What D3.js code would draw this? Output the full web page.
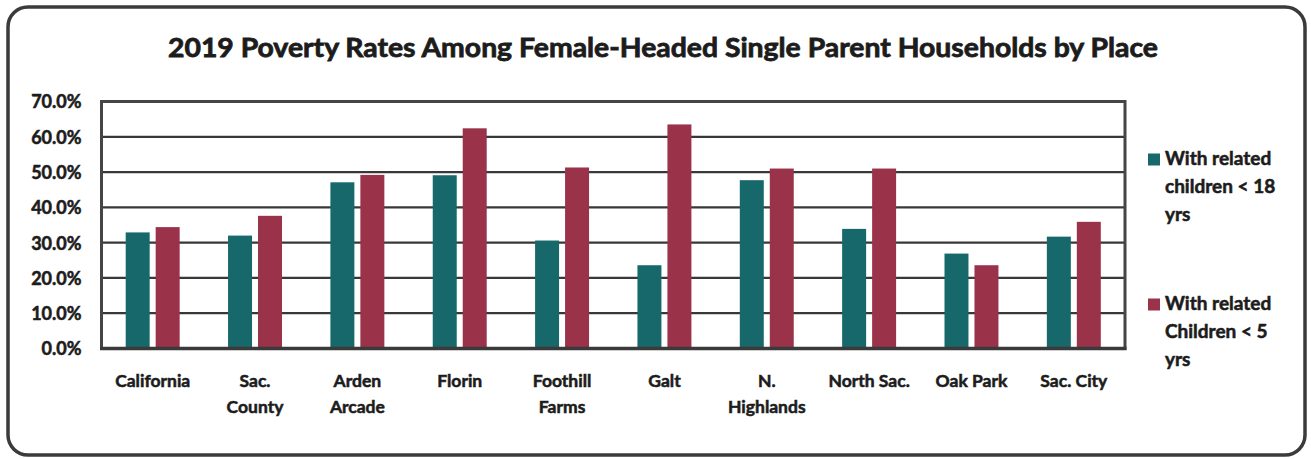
<!DOCTYPE html>
<html>
<head>
<meta charset="utf-8">
<script src="https://cdn.jsdelivr.net/npm/d3@7"></script>
<style>
  html, body { margin: 0; padding: 0; background: #fff; }
  svg { display: block; }
  text { font-family: Lato, "Open Sans", sans-serif; font-weight: 700; fill: #1c1c1c;
         stroke: #1c1c1c; stroke-width: 0.55px; paint-order: stroke; }
</style>
</head>
<body>
<svg id="chart" width="1311" height="459"></svg>
<script>
// Poverty rates by place (share of households)
const places = ["California", "Sac. County", "Arden Arcade", "Florin", "Foothill Farms",
                "Galt", "N. Highlands", "North Sac.", "Oak Park", "Sac. City"];
// Axis label lines for each place
const placeLabels = [["California"], ["Sac.", "County"], ["Arden", "Arcade"], ["Florin"],
                     ["Foothill", "Farms"], ["Galt"], ["N.", "Highlands"], ["North Sac."],
                     ["Oak Park"], ["Sac. City"]];
const under18 = [0.329, 0.320, 0.471, 0.491, 0.306, 0.236, 0.477, 0.339, 0.269, 0.317];
const under5  = [0.344, 0.376, 0.492, 0.624, 0.513, 0.635, 0.510, 0.510, 0.236, 0.359];
const seriesNames = ["With related children < 18 yrs", "With related Children < 5 yrs"];
const legendLines = [["With related", "children < 18", "yrs"], ["With related", "Children < 5", "yrs"]];
const yTicks = [0, 0.1, 0.2, 0.3, 0.4, 0.5, 0.6, 0.7];
const titleText = "2019 Poverty Rates Among Female-Headed Single Parent Households by Place";

const colors = ["#17686b", "#9a324a"];
const svg = d3.select("#chart");

// Outer rounded frame
svg.append("rect")
  .attr("x", 8).attr("y", 7).attr("width", 1297).attr("height", 448)
  .attr("rx", 20).attr("ry", 20)
  .attr("fill", "#fff").attr("stroke", "#3b3b3b").attr("stroke-width", 3.5);

// Title
svg.append("text")
  .attr("x", 663).attr("y", 57)
  .attr("text-anchor", "middle")
  .attr("font-size", 27)
  .style("stroke-width", "0.8px")
  .attr("textLength", 990).attr("lengthAdjust", "spacingAndGlyphs")
  .text(titleText);

const plot = { left: 101.5, right: 1125, top: 101.5, bottom: 348.5 };

const x0 = d3.scaleBand().domain(places).range([plot.left, plot.right]).padding(0);
const x1 = d3.scaleBand().domain(seriesNames).range([0, x0.bandwidth()])
  .paddingInner(0.2).paddingOuter(0.807);
const y = d3.scaleLinear().domain([0, 0.7]).range([plot.bottom, plot.top]);

// Gridlines
svg.append("g")
  .selectAll("line")
  .data(yTicks.slice(1, -1))
  .join("line")
  .attr("x1", plot.left).attr("x2", plot.right)
  .attr("y1", d => y(d)).attr("y2", d => y(d))
  .attr("stroke", "#383838").attr("stroke-width", 2.2);

// Plot frame
svg.append("rect")
  .attr("x", plot.left).attr("y", plot.top)
  .attr("width", plot.right - plot.left).attr("height", plot.bottom - plot.top)
  .attr("fill", "none").attr("stroke", "#454545").attr("stroke-width", 3);

// Bars
const rows = places.map((p, i) => ({ place: p, values: [under18[i], under5[i]] }));
const groups = svg.append("g").selectAll("g")
  .data(rows).join("g")
  .attr("transform", d => `translate(${x0(d.place)},0)`);
groups.selectAll("rect")
  .data(d => d.values.map((v, k) => ({ key: seriesNames[k], value: v, k })))
  .join("rect")
  .attr("x", d => x1(d.key))
  .attr("width", x1.bandwidth())
  .attr("y", d => y(d.value))
  .attr("height", d => plot.bottom - y(d.value))
  .attr("fill", d => colors[d.k]);

// Bottom axis line
svg.append("line")
  .attr("x1", plot.left - 1.5).attr("x2", plot.right + 1.5)
  .attr("y1", plot.bottom).attr("y2", plot.bottom)
  .attr("stroke", "#3a3a3a").attr("stroke-width", 3.5);

// Y axis labels
const yAxis = d3.axisLeft(y).tickValues(yTicks).tickFormat(d3.format(".1%")).tickSize(0).tickPadding(0);
const yg = svg.append("g").attr("transform", `translate(${plot.left - 20},0)`).call(yAxis);
yg.select(".domain").remove();
yg.selectAll("text")
  .attr("font-family", "Lato, 'Open Sans', sans-serif")
  .attr("font-weight", 700)
  .attr("font-size", 18)
  .attr("fill", "#1c1c1c")
  .attr("dy", "0.36em");

// X axis labels
const xAxis = d3.axisBottom(x0).tickSize(0).tickFormat(() => "");
const xg = svg.append("g").attr("transform", `translate(0,${plot.bottom})`).call(xAxis);
xg.select(".domain").remove();
xg.selectAll(".tick").each(function (d, i) {
  const t = d3.select(this).select("text")
    .attr("y", 0).attr("dy", null)
    .attr("font-family", "Lato, 'Open Sans', sans-serif")
    .attr("font-weight", 700)
    .attr("font-size", 17.5)
    .attr("fill", "#1c1c1c");
  placeLabels[i].forEach((line, j) => {
    t.append("tspan").attr("x", 0).attr("y", 38.5 + j * 26).text(line);
  });
});

// Legend
const legend = svg.append("g");
const legendTop = [165, 310];
legendLines.forEach((lines, k) => {
  legend.append("rect")
    .attr("x", 1148).attr("y", legendTop[k] - 11.5)
    .attr("width", 12).attr("height", 12)
    .attr("fill", colors[k]);
  const t = legend.append("text").attr("font-size", 19);
  lines.forEach((line, j) => {
    t.append("tspan").attr("x", 1165).attr("y", legendTop[k] + j * 28).text(line);
  });
});
</script>
</body>
</html>
